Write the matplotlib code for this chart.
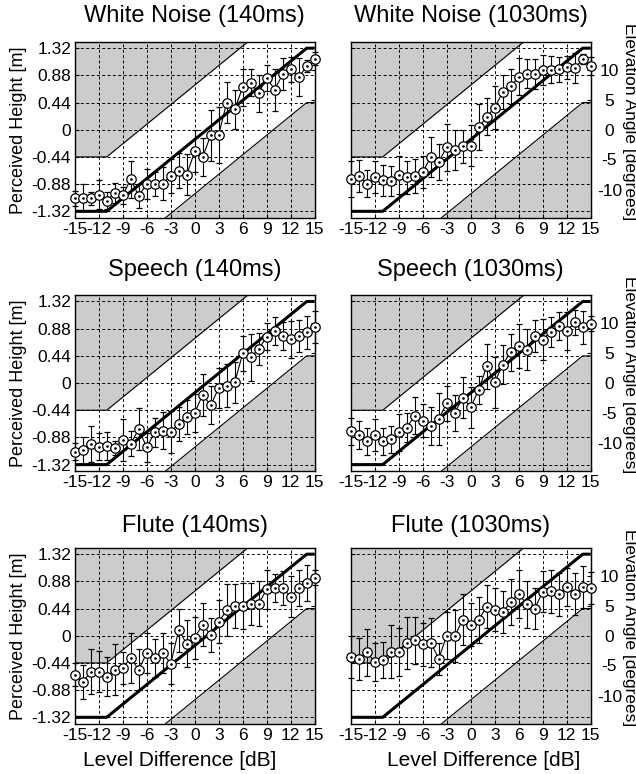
import matplotlib
matplotlib.use('Agg')
import matplotlib.pyplot as plt
import numpy as np

plt.rcParams['font.family'] = ['Liberation Sans', 'DejaVu Sans']
plt.rcParams['axes.unicode_minus'] = False

# level difference between loudspeakers [dB], one point per dB
level_db = np.arange(-15, 16)

# perceived height [m] (mean) and error bar half-length [m]
wn140_mean = [-1.11, -1.10, -1.11, -1.05, -1.15, -1.02, -1.06, -0.80, -1.07, -0.88, -0.88,
              -0.87, -0.75, -0.66, -0.73, -0.35, -0.44, -0.09, -0.08, 0.44, 0.33, 0.69,
              0.76, 0.59, 0.84, 0.65, 0.90, 0.98, 0.85, 1.03, 1.15]
wn140_err = [0.12, 0.22, 0.10, 0.24, 0.14, 0.16, 0.14, 0.30, 0.19, 0.24, 0.20,
             0.26, 0.27, 0.28, 0.33, 0.34, 0.31, 0.41, 0.45, 0.33, 0.31, 0.30,
             0.22, 0.30, 0.21, 0.34, 0.26, 0.20, 0.31, 0.10, 0.11]

wn1030_mean = [-0.80, -0.75, -0.87, -0.77, -0.82, -0.83, -0.73, -0.77, -0.75, -0.69, -0.44,
               -0.52, -0.28, -0.33, -0.27, -0.26, 0.04, 0.21, 0.36, 0.61, 0.70, 0.86,
               0.91, 0.90, 0.97, 0.97, 0.98, 1.01, 1.00, 1.14, 1.03]
wn1030_err = [0.29, 0.26, 0.22, 0.26, 0.25, 0.25, 0.31, 0.27, 0.28, 0.26, 0.33,
              0.29, 0.38, 0.32, 0.27, 0.33, 0.37, 0.30, 0.35, 0.27, 0.29, 0.30,
              0.24, 0.24, 0.24, 0.22, 0.20, 0.19, 0.25, 0.08, 0.14]

sp140_mean = [-1.11, -1.09, -0.98, -1.03, -1.02, -1.05, -0.92, -0.98, -0.75, -1.04, -0.80,
              -0.77, -0.79, -0.66, -0.55, -0.48, -0.19, -0.36, -0.08, -0.04, 0.01, 0.48,
              0.42, 0.55, 0.75, 0.84, 0.76, 0.71, 0.76, 0.82, 0.91]
sp140_err = [0.14, 0.22, 0.29, 0.22, 0.22, 0.11, 0.34, 0.20, 0.34, 0.23, 0.24,
             0.30, 0.34, 0.27, 0.27, 0.31, 0.34, 0.31, 0.33, 0.35, 0.33, 0.28,
             0.38, 0.26, 0.22, 0.23, 0.23, 0.30, 0.26, 0.27, 0.26]

sp1030_mean = [-0.78, -0.84, -0.94, -0.84, -0.94, -0.91, -0.80, -0.72, -0.53, -0.61, -0.69,
               -0.58, -0.33, -0.48, -0.24, -0.39, -0.11, 0.27, 0.01, 0.30, 0.50, 0.60,
               0.54, 0.76, 0.70, 0.83, 0.92, 0.84, 0.98, 0.90, 0.96]
sp1030_err = [0.22, 0.22, 0.22, 0.26, 0.22, 0.22, 0.30, 0.23, 0.30, 0.27, 0.31,
              0.42, 0.29, 0.29, 0.33, 0.33, 0.23, 0.37, 0.41, 0.31, 0.30, 0.35,
              0.33, 0.26, 0.33, 0.24, 0.23, 0.31, 0.20, 0.27, 0.12]

fl140_mean = [-0.63, -0.75, -0.58, -0.58, -0.66, -0.55, -0.52, -0.36, -0.55, -0.28, -0.36,
              -0.28, -0.45, 0.09, -0.13, -0.03, 0.18, 0.01, 0.23, 0.41, 0.48, 0.48,
              0.51, 0.52, 0.75, 0.77, 0.77, 0.63, 0.77, 0.85, 0.94]
fl140_err = [0.19, 0.27, 0.37, 0.33, 0.31, 0.41, 0.26, 0.41, 0.33, 0.33, 0.30,
             0.32, 0.33, 0.35, 0.38, 0.34, 0.35, 0.28, 0.35, 0.42, 0.35, 0.37,
             0.34, 0.37, 0.31, 0.23, 0.28, 0.33, 0.29, 0.29, 0.12]

fl1030_mean = [-0.34, -0.38, -0.27, -0.42, -0.39, -0.26, -0.26, -0.12, -0.07, -0.14, -0.11,
               -0.37, 0.00, -0.01, 0.26, 0.18, 0.26, 0.47, 0.42, 0.38, 0.55, 0.68,
               0.51, 0.44, 0.71, 0.72, 0.67, 0.79, 0.68, 0.79, 0.77]
fl1030_err = [0.34, 0.34, 0.38, 0.31, 0.29, 0.43, 0.39, 0.42, 0.38, 0.35, 0.39,
              0.26, 0.38, 0.42, 0.41, 0.35, 0.37, 0.35, 0.35, 0.34, 0.37, 0.39,
              0.38, 0.33, 0.33, 0.35, 0.35, 0.31, 0.34, 0.34, 0.26]

titles = ['White Noise (140ms)', 'White Noise (1030ms)',
          'Speech (140ms)', 'Speech (1030ms)',
          'Flute (140ms)', 'Flute (1030ms)']
means = [wn140_mean, wn1030_mean, sp140_mean, sp1030_mean, fl140_mean, fl1030_mean]
errs = [wn140_err, wn1030_err, sp140_err, sp1030_err, fl140_err, fl1030_err]

# ideal response (thick line) and tolerance band around it
target_db = [-15, -11, 14, 15]
target_h = [-1.32, -1.32, 1.32, 1.32]
band_width = 0.88

y_ticks = [-1.32, -0.88, -0.44, 0, 0.44, 0.88, 1.32]
y_ticklabels = ['-1.32', '-0.88', '-0.44', '0', '0.44', '0.88', '1.32']
x_ticks = np.arange(-15, 16, 3)
angle_ticks = [-10, -5, 0, 5, 10]
listener_dist = 5.5  # m, used to convert height to elevation angle

gray = '#cccccc'
W, H = 636, 774

fig = plt.figure(figsize=(W / 100, H / 100), dpi=100)

col_left = [74.7, 350.7]
row_top = [42, 295.3, 548]
ax_w, ax_h = 240, 175.5
title_pads = [14.5, 14, 11.5]


def h_to_deg(h):
    return np.degrees(np.arctan(np.asarray(h) / listener_dist))


def deg_to_h(d):
    return listener_dist * np.tan(np.radians(d))


xx = np.linspace(-15, 15, 601)
tt = np.interp(xx, target_db, target_h)
ylo, yhi = -1.42, 1.42

for i in range(6):
    r, c = divmod(i, 2)
    x0 = col_left[c] / W
    y0 = 1 - (row_top[r] + ax_h) / H
    ax = fig.add_axes([x0, y0, ax_w / W, ax_h / H])

    # shaded regions outside the tolerance band
    ax.fill_between(xx, tt + band_width, yhi, color=gray, lw=0, zorder=1)
    ax.fill_between(xx, ylo, tt - band_width, color=gray, lw=0, zorder=1)
    ax.plot(xx, tt + band_width, color='k', lw=0.8, zorder=2)
    ax.plot(xx, tt - band_width, color='k', lw=0.8, zorder=2)
    ax.plot(xx, tt, color='k', lw=2.2, zorder=3, solid_capstyle='butt')

    ax.errorbar(level_db, means[i], yerr=errs[i], fmt='-', color='k', lw=0.8,
                elinewidth=0.8, capsize=2.3, capthick=0.8, marker='o', ms=6.8,
                mfc='white', mec='k', mew=0.9, zorder=4, clip_on=False)
    ax.plot(level_db, means[i], '.', color='k', ms=1.8, zorder=5, clip_on=False)

    ax.set_xlim(-15, 15)
    ax.set_ylim(ylo, yhi)
    ax.set_xticks(x_ticks)
    ax.set_xticklabels([str(v) for v in x_ticks])
    ax.set_yticks(y_ticks)
    if c == 0:
        ax.set_yticklabels(y_ticklabels)
    else:
        ax.set_yticklabels([])
    ax.grid(True, color='k', linestyle=(0, (3, 2.5)), linewidth=0.7)
    ax.tick_params(direction='in', length=3, width=0.8, labelsize=12.5, pad=3)
    ax.tick_params(axis='y', pad=2.5)
    for sp in ax.spines.values():
        sp.set_linewidth(1.0)

    secax = ax.secondary_yaxis('right', functions=(h_to_deg, deg_to_h))
    secax.set_yticks(angle_ticks)
    secax.tick_params(direction='in', length=3, width=0.8, labelsize=12.5)
    if c == 1:
        secax.set_yticklabels([str(v) for v in angle_ticks])
        secax.tick_params(pad=13.5)
        for lbl in secax.get_yticklabels():
            lbl.set_horizontalalignment('center')
    else:
        secax.set_yticklabels([])

    ax.set_title(titles[i], fontsize=17, pad=title_pads[r])

    yc = 1 - (row_top[r] + ax_h / 2) / H
    if c == 0:
        fig.text(19 / W, yc, 'Perceived Height [m]', rotation=90,
                 ha='center', va='center', fontsize=13)
    else:
        fig.text(630 / W, yc + 8 / H, 'Elevation Angle [degrees]', rotation=270,
                 ha='center', va='center', fontsize=12.5)
    if r == 2:
        xc = 180 if c == 0 else 484
        fig.text(xc / W, 7.5 / H, 'Level Difference [dB]', ha='center',
                 va='baseline', fontsize=15)

fig.savefig('out.png', dpi=100)
